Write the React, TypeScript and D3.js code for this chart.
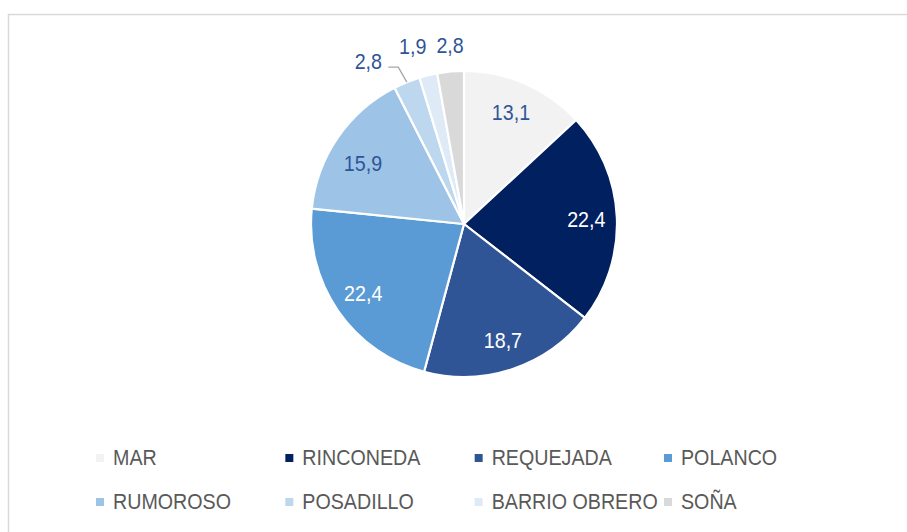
import React from "react";
import * as d3 from "d3";

const categories = ["MAR", "RINCONEDA", "REQUEJADA", "POLANCO", "RUMOROSO", "POSADILLO", "BARRIO OBRERO", "SOÑA"];
const values = [13.1, 22.4, 18.7, 22.4, 15.9, 2.8, 1.9, 2.8];
const colors = ["#F2F2F2", "#002060", "#2F5597", "#5B9BD5", "#9DC3E6", "#BDD7EE", "#DEEBF7", "#D9D9D9"];
const labelColors = ["#2F5597", "#FFFFFF", "#FFFFFF", "#FFFFFF", "#2F5597", "#2F5597", "#2F5597", "#2F5597"];

const W = 907;
const H = 532;
const FONT = "'Liberation Sans', Arial, sans-serif";
const FS = 22.5;
const SX = 0.874;

const fmt = (v: number) => v.toFixed(1).replace(".", ",");

export default function App() {
  const cx = 464;
  const cy = 224;
  const R = 153;
  const pie = d3.pie<number>().sort(null).value((d) => d);
  const arcs = pie(values);
  const arc = d3.arc<d3.PieArcDatum<number>>().innerRadius(0).outerRadius(R);
  const labelArc = d3.arc<d3.PieArcDatum<number>>().innerRadius(R * 0.8).outerRadius(R * 0.8);
  const outerArc = d3.arc<d3.PieArcDatum<number>>().innerRadius(R + 28).outerRadius(R + 28);
  const edgeArc = d3.arc<d3.PieArcDatum<number>>().innerRadius(R).outerRadius(R);

  // nudges for labels (Excel-like spreading)
  const nudges: Record<number, [number, number]> = { 0: [-2, 0], 4: [0, 8], 5: [-28, 5], 6: [-9, -2], 7: [2, 1] };

  const legendCols = d3.scaleLinear().domain([0, 3]).range([96, 664]);
  const legendRows = [458, 502];

  return (
    <svg width={W} height={H} style={{ position: "absolute", left: 0, top: 0, background: "#fff" }}>
      <rect x={8.5} y={14.5} width={W} height={H} fill="#fff" stroke="#D9D9D9" strokeWidth={1.5} />
      <g transform={`translate(${cx},${cy})`}>
        {arcs.map((a, i) => (
          <path key={i} d={arc(a) as string} fill={colors[i]} stroke="#fff" strokeWidth={2.2} strokeLinejoin="round" />
        ))}
        {arcs.map((a, i) => {
          const small = values[i] < 5;
          let [x, y] = small ? outerArc.centroid(a) : labelArc.centroid(a);
          if (nudges[i]) {
            x += nudges[i][0];
            y += nudges[i][1];
          }
          const lead = i === 5 ? (() => {
            const [ex, ey] = edgeArc.centroid(a);
            return `M${ex},${ey}L${x + 30},${y + 6}L${x + 20},${y + 6}`;
          })() : null;
          return (
            <g key={i}>
              {lead && <path d={lead} fill="none" stroke="#A6A6A6" strokeWidth={1.3} />}
              <text
                transform={`translate(${x},${y + 8}) scale(${SX},1)`}
                textAnchor="middle"
                fontFamily={FONT}
                fontSize={FS}
                fill={labelColors[i]}
              >
                {fmt(values[i])}
              </text>
            </g>
          );
        })}
      </g>
      {categories.map((c, i) => {
        const col = i % 4;
        const row = Math.floor(i / 4);
        const x = legendCols(col);
        const y = legendRows[row];
        return (
          <g key={c}>
            <rect x={x} y={y - 4} width={8} height={8} fill={colors[i]} />
            <text
              transform={`translate(${x + 17},${y + 7}) scale(${SX},1)`}
              fontFamily={FONT}
              fontSize={FS}
              fill="#595959"
            >
              {c}
            </text>
          </g>
        );
      })}
    </svg>
  );
}
